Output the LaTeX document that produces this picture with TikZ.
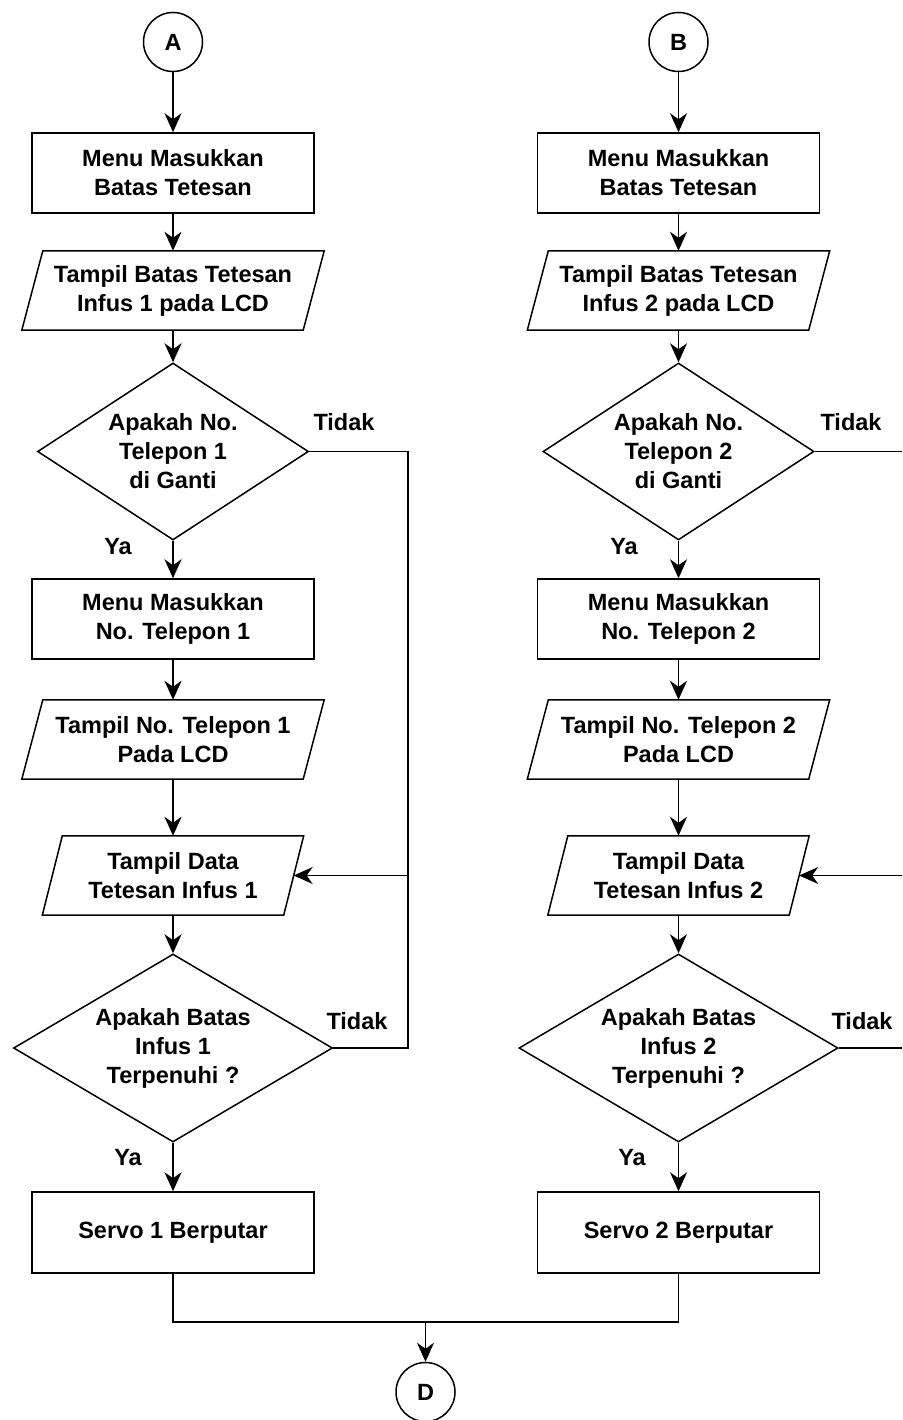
\documentclass[tikz,border=0pt]{standalone}
\usepackage{fontspec}
\setmainfont{Liberation Sans}
\usetikzlibrary{arrows.meta,shapes.geometric}
\begin{document}
\begin{tikzpicture}[x=1pt,y=-1pt,
  every node/.style={font=\fontsize{23.5}{29}\selectfont\bfseries, text=black},
  ln/.style={line width=1.5pt, draw=black},
  arr/.style={ln, -{Stealth[length=19pt,width=17pt,inset=6pt]}},
  proc/.style={ln, draw, rectangle, minimum width=282, minimum height=80, align=center, inner sep=0},
  io/.style={rectangle, inner sep=0, align=center, minimum height=79},
  dec/.style={ln, draw, diamond, inner sep=0, align=center},
  conn/.style={ln, draw, circle, minimum size=59, inner sep=0}]
\useasboundingbox (0,0) rectangle (902,1420);
% ---------- left column ----------
\node[conn] (A) at (173,42) {A};
\node[proc] (a1) at (173,173) {Menu Masukkan\\Batas Tetesan};
\node[io, minimum width=281] (a2) at (173,290.5) {Tampil Batas Tetesan\\Infus 1 pada LCD};
\node[dec, minimum width=271, minimum height=177, aspect=1.53] (a3) at (173,451.5) {Apakah No.\\Telepon 1\\di Ganti};
\node[proc] (a4) at (173,619) {Menu Masukkan\\No. Telepon 1};
\node[io, minimum width=281] (a5) at (173,739.5) {Tampil No. Telepon 1\\Pada LCD};
\node[io, minimum width=241] (a6) at (173,875.5) {Tampil Data\\Tetesan Infus 1};
\node[dec, minimum width=319, minimum height=188, aspect=1.7] (a7) at (173,1048) {Apakah Batas\\Infus 1\\Terpenuhi ?};
\node[proc, minimum height=81] (a8) at (173,1232.5) {Servo 1 Berputar};
% ---------- right column ----------
\node[conn] (B) at (678.5,42) {B};
\node[proc] (b1) at (678.5,173) {Menu Masukkan\\Batas Tetesan};
\node[io, minimum width=281] (b2) at (678.5,290.5) {Tampil Batas Tetesan\\Infus 2 pada LCD};
\node[dec, minimum width=271, minimum height=177, aspect=1.53] (b3) at (678.5,451.5) {Apakah No.\\Telepon 2\\di Ganti};
\node[proc] (b4) at (678.5,619) {Menu Masukkan\\No. Telepon 2};
\node[io, minimum width=281] (b5) at (678.5,739.5) {Tampil No. Telepon 2\\Pada LCD};
\node[io, minimum width=241] (b6) at (678.5,875.5) {Tampil Data\\Tetesan Infus 2};
\node[dec, minimum width=319, minimum height=188, aspect=1.7] (b7) at (678.5,1048) {Apakah Batas\\Infus 2\\Terpenuhi ?};
\node[proc, minimum height=81] (b8) at (678.5,1232.5) {Servo 2 Berputar};
\node[conn] (D) at (425.5,1392) {D};
% ---------- parallelogram outlines ----------
\foreach \n/\s in {a2/10.5,a5/10.5,a6/10,b2/10.5,b5/10.5,b6/10}
  \draw[ln] ([xshift=\s]\n.north west) -- ([xshift=\s]\n.north east)
     -- ([xshift=-\s]\n.south east) -- ([xshift=-\s]\n.south west) -- cycle;
% ---------- labels ----------
\node (t1) at (344,422) {Tidak};
\node (t2) at (357,1021) {Tidak};
\node (t3) at (851,422) {Tidak};
\node (t4) at (862,1021) {Tidak};
\node (y1) at (118,547) {Ya};
\node (y2) at (128,1158) {Ya};
\node (y3) at (624,547) {Ya};
\node (y4) at (632,1158) {Ya};
% ---------- connectors ----------
\foreach \c in {a,b}{
  \draw[arr] (\c1) -- (\c2);
  \draw[arr] (\c2) -- (\c3);
  \draw[arr] (\c3) -- (\c4);
  \draw[arr] (\c4) -- (\c5);
  \draw[arr] (\c5) -- (\c6);
  \draw[arr] (\c6) -- (\c7);
  \draw[arr] (\c7) -- (\c8);
}
\draw[arr] (A) -- (a1);
\draw[arr] (B) -- (b1);
% left loop
\coordinate (la) at (408,451.5);
\coordinate (lc) at (408,875.5);
\coordinate (lb) at (408,1048);
\draw[ln] (a3.east) -- (la) -- (lb) -- (a7.east);
\draw[arr] (lc) -- (a6.east);
% right loop (runs off the page edge)
\coordinate (ra) at (902,451.5);
\coordinate (rc) at (902,875.5);
\coordinate (rb) at (902,1048);
\draw[ln] (b3.east) -- (ra);
\draw[arr] (rc) -- (b6.east);
\draw[ln] (b7.east) -- (rb);
% join to D
\coordinate (j) at (425.5,1322);
\draw[ln] (a8) |- (j) -| (b8);
\draw[arr] (j) -- (D);
\end{tikzpicture}
\end{document}
